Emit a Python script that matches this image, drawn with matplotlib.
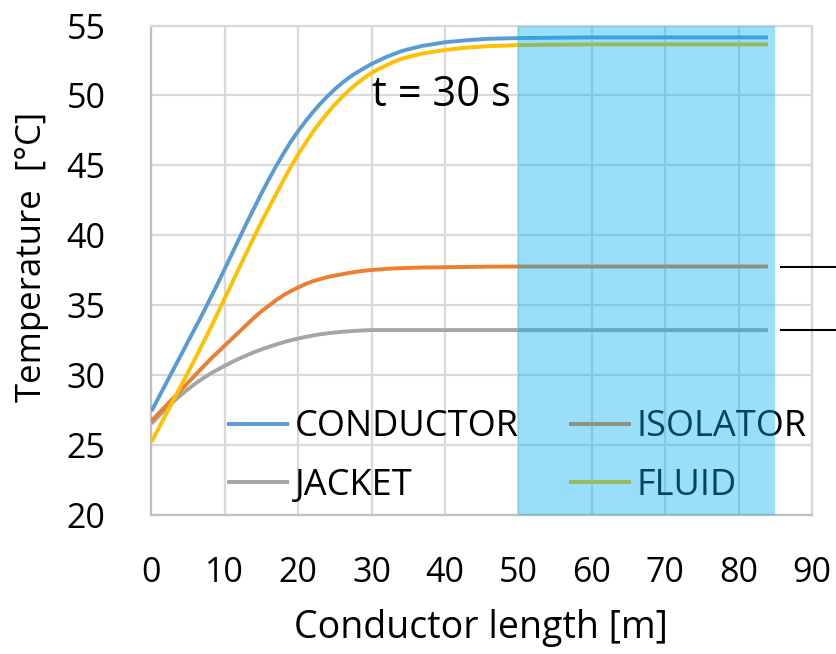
import matplotlib
matplotlib.use("Agg")
import matplotlib.pyplot as plt
from matplotlib.patches import Rectangle

plt.rcParams['font.family'] = ['Open Sans', 'DejaVu Sans']

x = [0, 1, 2, 3, 4, 5, 6, 7, 8, 9, 10, 11, 12, 13, 14, 15, 16, 17, 18, 19, 20,
     21, 22, 23, 24, 25, 26, 27, 28, 29, 30, 31, 32, 33, 34, 35, 37, 40, 43, 46, 50, 60, 70, 84]
conductor = [27.4, 28.4, 29.4, 30.4, 31.4, 32.4, 33.4, 34.4, 35.45, 36.5, 37.6, 38.7, 39.8, 40.9, 41.95,
             43.0, 44.0, 44.95, 45.85, 46.7, 47.45, 48.15, 48.8, 49.4, 49.95, 50.45, 50.9, 51.3, 51.65,
             51.95, 52.25, 52.5, 52.75, 52.95, 53.15, 53.3, 53.55, 53.8, 53.95, 54.05, 54.1, 54.15, 54.15, 54.15]
isolator = [26.7, 27.25, 27.8, 28.35, 28.9, 29.45, 30.0, 30.55, 31.1, 31.6, 32.1, 32.6, 33.1, 33.6, 34.1,
            34.55, 34.95, 35.35, 35.7, 36.0, 36.25, 36.5, 36.7, 36.85, 37.0, 37.1, 37.2, 37.3, 37.38,
            37.45, 37.5, 37.54, 37.58, 37.61, 37.63, 37.65, 37.68, 37.7, 37.72, 37.74, 37.75, 37.75, 37.75, 37.75]
jacket = [26.5, 27.05, 27.58, 28.08, 28.55, 28.98, 29.38, 29.74, 30.07, 30.37, 30.65, 30.92, 31.17, 31.4,
          31.62, 31.82, 32.0, 32.17, 32.33, 32.47, 32.6, 32.71, 32.81, 32.9, 32.97, 33.03, 33.08, 33.12,
          33.15, 33.18, 33.2, 33.2, 33.2, 33.2, 33.2, 33.2, 33.2, 33.2, 33.2, 33.2, 33.2, 33.2, 33.2, 33.2]
fluid = [25.2, 26.2, 27.2, 28.2, 29.2, 30.2, 31.2, 32.25, 33.3, 34.4, 35.5, 36.6, 37.7, 38.8, 39.9,
         40.95, 41.95, 42.95, 43.95, 44.9, 45.8, 46.6, 47.4, 48.1, 48.75, 49.35, 49.9, 50.4, 50.85,
         51.25, 51.6, 51.9, 52.15, 52.4, 52.6, 52.75, 53.0, 53.25, 53.42, 53.52, 53.6, 53.65, 53.65, 53.65]

x_ticks = [0, 10, 20, 30, 40, 50, 60, 70, 80, 90]
y_ticks = [20, 25, 30, 35, 40, 45, 50, 55]
shade_range = (50, 85)
marker_levels = [37.75, 33.2]

fig = plt.figure(figsize=(8.36, 6.54), dpi=100)
ax = fig.add_axes([0.1812, 0.2133, 0.79, 0.7477])

lw = 2.8
kw = dict(lw=lw, zorder=3, solid_joinstyle='round', solid_capstyle='butt')
ax.plot(x, conductor, color='#5B9BD5', label='CONDUCTOR', **kw)
ax.plot(x, jacket, color='#A5A5A5', label='JACKET', **kw)
ax.plot(x, isolator, color='#ED7D31', label='ISOLATOR', **kw)
ax.plot(x, fluid, color='#FFC000', label='FLUID', **kw)

ax.set_xlim(0, 90)
ax.set_ylim(20, 55)
ax.set_xticks(x_ticks)
ax.set_yticks(y_ticks)
ax.grid(True, color='#D9D9D9', lw=1.6, zorder=0)
ax.set_axisbelow(True)
ax.tick_params(length=0)
ax.tick_params(axis='x', labelsize=24.5, pad=30)
ax.tick_params(axis='y', labelsize=24.5, pad=33)
for s in ['top', 'right']:
    ax.spines[s].set_color('#D9D9D9')
    ax.spines[s].set_linewidth(1.6)
for s in ['left', 'bottom']:
    ax.spines[s].set_color('#BFBFBF')
    ax.spines[s].set_linewidth(1.6)

leg = ax.legend(ncol=2, loc='upper left', bbox_to_anchor=(0.0875, 0.252), frameon=False,
                fontsize=26, handlelength=1.72, handletextpad=0.15, columnspacing=1.38,
                labelspacing=0.63, borderpad=0)

ax.add_patch(Rectangle((shade_range[0], 20), shade_range[1] - shade_range[0], 35,
                       facecolor='#00B0F0', alpha=0.4, edgecolor='none', zorder=10))

ax.text(30.1, 50.0, 't = 30 s', fontsize=30, va='center', ha='left', zorder=11)

for lv in marker_levels:
    ax.plot([85.8, 93.5], [lv, lv], color='black', lw=1.5, clip_on=False, zorder=12)

fig.text(32 / 836, 1 - 257 / 654, 'Temperature  [°C]', rotation=90, fontsize=25,
         ha='center', va='center')
fig.text(481 / 836, 1 - 628 / 654, 'Conductor length [m]', fontsize=27,
         ha='center', va='center')

fig.savefig('out.png', dpi=100)
